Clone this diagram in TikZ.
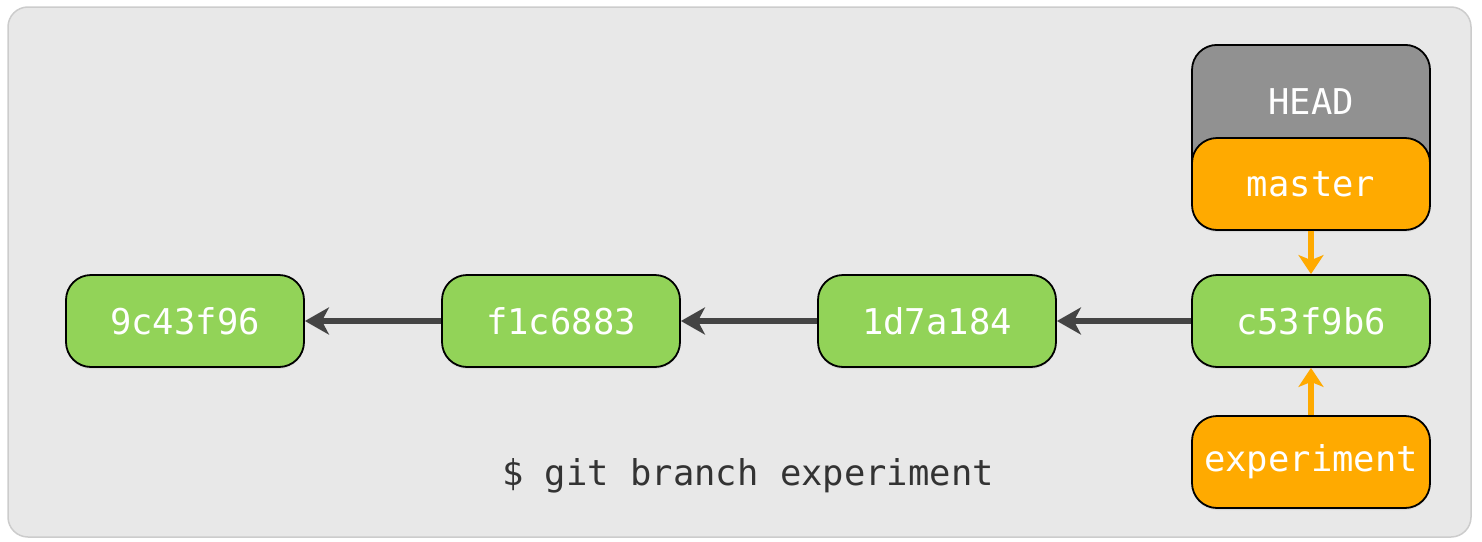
\documentclass[tikz,border=0pt]{standalone}
\usepackage{fontspec}
\setmonofont{DejaVu Sans Mono}
\usetikzlibrary{arrows.meta,shadows}
\definecolor{bgfill}{HTML}{E8E8E8}
\definecolor{bgline}{HTML}{CCCCCC}
\definecolor{commitgreen}{HTML}{92D358}
\definecolor{branchorange}{HTML}{FFAA00}
\definecolor{headgrey}{HTML}{919191}
\definecolor{arrowgrey}{HTML}{444444}
\definecolor{cmdtext}{HTML}{333333}
\tikzset{
  labelfont/.style={font=\ttfamily\fontsize{35.5}{36}\selectfont},
  box/.style={draw=black, line width=1.8pt, rounded corners=25pt,
    minimum width=238pt, minimum height=92pt, inner sep=0pt,
    labelfont, text=white,
    drop shadow={shadow xshift=0pt, shadow yshift=-2pt, opacity=0.15}},
  commit/.style={box, fill=commitgreen},
  branch/.style={box, fill=branchorange},
  headbox/.style={box, fill=headgrey, minimum height=156pt},
  parent/.style={draw=arrowgrey, line width=5.5pt, -{Stealth[length=24pt,width=27pt,inset=7pt]}},
  pointer/.style={draw=branchorange, line width=5.5pt, -{Stealth[length=19pt,width=25pt,inset=5pt]}},
}
\begin{document}
\begin{tikzpicture}[x=1pt,y=-1pt]
\useasboundingbox (0,0) rectangle (1482,541);
\draw[fill=bgfill, draw=bgline, line width=1.5pt, rounded corners=20pt] (8,7) rectangle (1471,537);
\node[commit] (c1) at (185,321) {9c43f96};
\node[commit] (c2) at (561,321) {f1c6883};
\node[commit] (c3) at (937,321) {1d7a184};
\node[commit] (c4) at (1311,321) {c53f9b6};
\node[headbox, anchor=north] (head) at (1311,44) {};
\node[text=white, labelfont] (headlabel) at (1311,102) {HEAD};
\node[branch] (master) at (1311,184) {master};
\node[branch] (exp) at (1311,462) {experiment};
\draw[parent] (c2.west) -- (c1.east);
\draw[parent] (c3.west) -- (c2.east);
\draw[parent] (c4.west) -- (c3.east);
\draw[pointer] (master.south) -- (c4.north);
\draw[pointer] (exp.north) -- (c4.south);
\node[text=cmdtext, labelfont] (cmd) at (748,476) {\$ git branch experiment};
\end{tikzpicture}
\end{document}
